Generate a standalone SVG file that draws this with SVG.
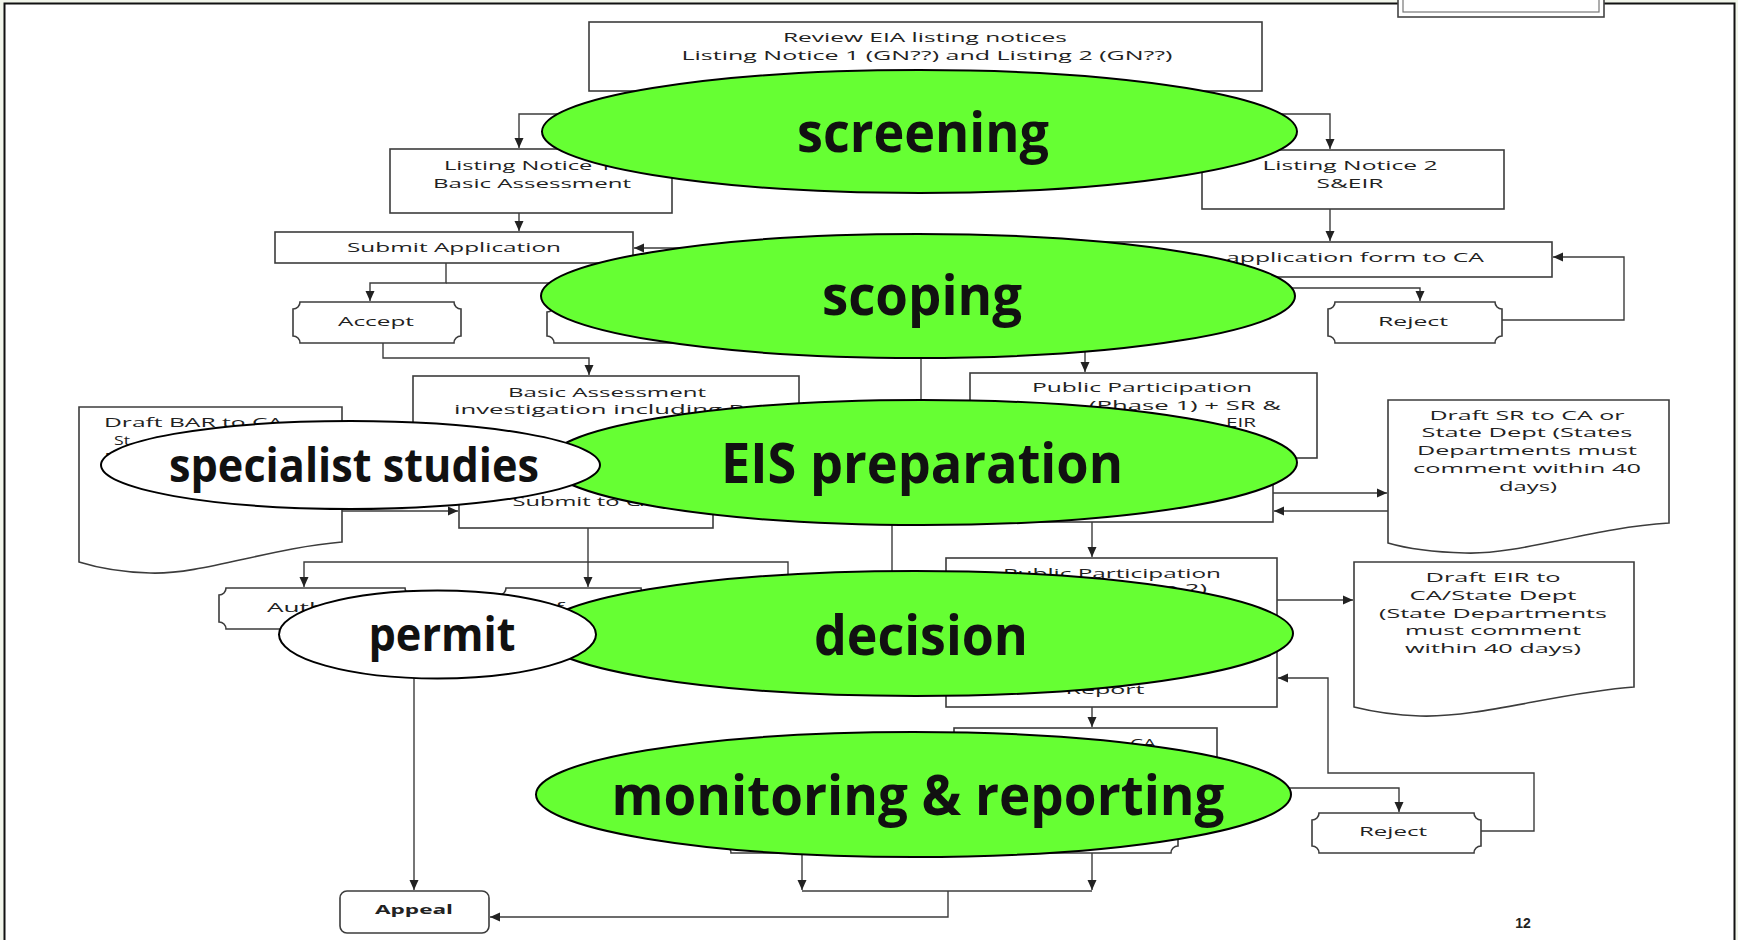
<svg xmlns="http://www.w3.org/2000/svg" width="1738" height="940" viewBox="0 0 1738 940">
<defs>
<marker id="ah" markerUnits="userSpaceOnUse" markerWidth="10" markerHeight="10" refX="10" refY="5" orient="auto">
<path d="M0,0.5 L10,5 L0,9.5 Z" fill="#222"/>
</marker>
<style>
.bx{fill:#fff;stroke:#3c3c3c;stroke-width:1.6}
.cn{fill:none;stroke:#3c3c3c;stroke-width:1.4}
.t{font-family:"Open Sans","Liberation Sans",sans-serif;font-size:13px;fill:#222;text-anchor:middle}
.g{fill:#66ff33;stroke:#000;stroke-width:2}
.w{fill:#fff;stroke:#000;stroke-width:2}
.L{font-family:"Open Sans","Liberation Sans",sans-serif;font-weight:700;font-size:56px;fill:#111;text-anchor:middle}
.S{font-family:"Open Sans","Liberation Sans",sans-serif;font-weight:700;font-size:46px;fill:#111;text-anchor:middle}
</style>
</defs>
<rect x="0" y="0" width="1738" height="940" fill="#f1f5ea"/>
<rect x="4.5" y="3.5" width="1730" height="980" fill="#fff" stroke="#111" stroke-width="2"/>
<g id="topbox">
<rect x="1398" y="-10" width="206" height="27" fill="#fff" stroke="#444" stroke-width="1.6"/>
<rect x="1403" y="-10" width="196" height="22" fill="none" stroke="#777" stroke-width="1.2"/>
</g>
<g id="connectors">
<path class="cn" d="M925,91 V114 H519 V148" marker-end="url(#ah)"/>
<path class="cn" d="M925,114 H1330 V149" marker-end="url(#ah)"/>
<path class="cn" d="M519,213 V231" marker-end="url(#ah)"/>
<path class="cn" d="M1330,209 V241" marker-end="url(#ah)"/>
<path class="cn" d="M446,263 V283 H370 V301" marker-end="url(#ah)"/>
<path class="cn" d="M446,283 H620 V304" marker-end="url(#ah)"/>
<path class="cn" d="M720,248 H634" marker-end="url(#ah)"/>
<path class="cn" d="M383,343 V358 H589 V375" marker-end="url(#ah)"/>
<path class="cn" d="M1250,288 H1420 V301" marker-end="url(#ah)"/>
<path class="cn" d="M1502,320 H1624 V257 H1553" marker-end="url(#ah)"/>
<path class="cn" d="M921,340 V410"/>
<path class="cn" d="M1085,340 V372" marker-end="url(#ah)"/>
<path class="cn" d="M342,511 H458" marker-end="url(#ah)"/>
<path class="cn" d="M588,528 V562 H304 V587" marker-end="url(#ah)"/>
<path class="cn" d="M588,562 V587" marker-end="url(#ah)"/>
<path class="cn" d="M588,562 H788 V590"/>
<path class="cn" d="M892,515 V585"/>
<path class="cn" d="M1273,493 H1387" marker-end="url(#ah)"/>
<path class="cn" d="M1388,511 H1274" marker-end="url(#ah)"/>
<path class="cn" d="M1092,522 V557" marker-end="url(#ah)"/>
<path class="cn" d="M1277,600 H1353" marker-end="url(#ah)"/>
<path class="cn" d="M1481,831 H1534 V773 H1328 V678 H1278" marker-end="url(#ah)"/>
<path class="cn" d="M1092,707 V727" marker-end="url(#ah)"/>
<path class="cn" d="M1270,788 H1399 V812" marker-end="url(#ah)"/>
<path class="cn" d="M802,853 V890" marker-end="url(#ah)"/>
<path class="cn" d="M1092,845 V890" marker-end="url(#ah)"/>
<path class="cn" d="M802,891 H1092"/>
<path class="cn" d="M948,891 V917 H490" marker-end="url(#ah)"/>
<path class="cn" d="M414,670 V890" marker-end="url(#ah)"/>
</g>
<g id="review"><rect class="bx" x="589" y="22" width="673" height="69"/>
<text class="t" x="925" y="42" textLength="284" lengthAdjust="spacingAndGlyphs">Review EIA listing notices</text>
<text class="t" x="927" y="60" textLength="491" lengthAdjust="spacingAndGlyphs">Listing Notice 1 (GN??) and Listing 2 (GN??)</text></g>
<g id="ln1"><rect class="bx" x="390" y="149" width="282" height="64"/>
<text class="t" x="528" y="170" textLength="168" lengthAdjust="spacingAndGlyphs">Listing Notice 1</text>
<text class="t" x="532" y="188" textLength="198" lengthAdjust="spacingAndGlyphs">Basic Assessment</text></g>
<g id="ln2"><rect class="bx" x="1202" y="150" width="302" height="59"/>
<text class="t" x="1350" y="170" textLength="175" lengthAdjust="spacingAndGlyphs">Listing Notice 2</text>
<text class="t" x="1350" y="188" textLength="67" lengthAdjust="spacingAndGlyphs">S&amp;EIR</text></g>
<g id="submitapp"><rect class="bx" x="275" y="232" width="358" height="31"/>
<text class="t" x="454" y="252" textLength="214" lengthAdjust="spacingAndGlyphs">Submit Application</text></g>
<g id="accept"><path class="bx" d="M300,302 H454 A7,7 0 0 0 461,309 V336 A7,7 0 0 0 454,343 H300 A7,7 0 0 0 293,336 V309 A7,7 0 0 0 300,302 Z"/>
<text class="t" x="376" y="326" textLength="76" lengthAdjust="spacingAndGlyphs">Accept</text></g>
<g id="rejectba"><path class="bx" d="M554,305 H713 A7,7 0 0 0 720,312 V336 A7,7 0 0 0 713,343 H554 A7,7 0 0 0 547,336 V312 A7,7 0 0 0 554,305 Z"/></g>
<g id="appform"><rect class="bx" x="1050" y="242" width="502" height="35"/>
<text class="t" x="1355" y="262" textLength="258" lengthAdjust="spacingAndGlyphs">application form to CA</text></g>
<g id="reject1"><path class="bx" d="M1335,302 H1495 A7,7 0 0 0 1502,309 V336 A7,7 0 0 0 1495,343 H1335 A7,7 0 0 0 1328,336 V309 A7,7 0 0 0 1335,302 Z"/>
<text class="t" x="1413" y="326" textLength="70" lengthAdjust="spacingAndGlyphs">Reject</text></g>
<g id="ba"><rect class="bx" x="413" y="376" width="386" height="104"/>
<text class="t" x="607" y="397" textLength="198" lengthAdjust="spacingAndGlyphs">Basic Assessment</text>
<text class="t" x="599" y="414" textLength="290" lengthAdjust="spacingAndGlyphs">investigation including P</text></g>
<g id="draftbar"><path class="bx" d="M79,407 H342 V542 C270,548 200,575 150,573 C115,572 95,567 79,562 Z"/>
<text class="t" x="193.5" y="427" textLength="179" lengthAdjust="spacingAndGlyphs">Draft BAR to CA</text>
<text class="t" x="122" y="445" textLength="16" lengthAdjust="spacingAndGlyphs">St</text>
<text class="t" x="110" y="462" textLength="10" lengthAdjust="spacingAndGlyphs">D</text></g>
<g id="submitca"><rect class="bx" x="459" y="482" width="254" height="46"/>
<text class="t" x="584" y="506" textLength="143" lengthAdjust="spacingAndGlyphs">Submit to CA</text></g>
<g id="auth"><path class="bx" d="M226,588 H405 A7,7 0 0 0 412,595 V622 A7,7 0 0 0 405,629 H226 A7,7 0 0 0 219,622 V595 A7,7 0 0 0 226,588 Z"/>
<text class="t" x="296" y="612" textLength="58" lengthAdjust="spacingAndGlyphs">Auth</text></g>
<g id="ref"><path class="bx" d="M506,588 H641 A7,7 0 0 0 648,595 V622 A7,7 0 0 0 641,629 H506 A7,7 0 0 0 499,622 V595 A7,7 0 0 0 506,588 Z"/>
<text class="t" x="543" y="612" textLength="42" lengthAdjust="spacingAndGlyphs">Ref</text></g>
<g id="pp1"><rect class="bx" x="970" y="373" width="347" height="85"/>
<text class="t" x="1142" y="392" textLength="220" lengthAdjust="spacingAndGlyphs">Public Participation</text>
<text class="t" x="1185" y="410" textLength="192" lengthAdjust="spacingAndGlyphs">(Phase 1) + SR &amp;</text>
<text class="t" x="1241" y="427" textLength="30" lengthAdjust="spacingAndGlyphs">EIR</text></g>
<g id="ppmid"><rect class="bx" x="975" y="470" width="298" height="52"/></g>
<g id="draftsr"><path class="bx" d="M1388,400 H1669 V523 C1590,528 1520,555 1465,553 C1430,552 1405,548 1388,543 Z"/>
<text class="t" x="1527" y="420" textLength="195" lengthAdjust="spacingAndGlyphs">Draft SR to CA or</text>
<text class="t" x="1527" y="437" textLength="211" lengthAdjust="spacingAndGlyphs">State Dept (States</text>
<text class="t" x="1527" y="455" textLength="220" lengthAdjust="spacingAndGlyphs">Departments must</text>
<text class="t" x="1527" y="473" textLength="228" lengthAdjust="spacingAndGlyphs">comment within 40</text>
<text class="t" x="1528" y="491" textLength="58" lengthAdjust="spacingAndGlyphs">days)</text></g>
<g id="pp2"><rect class="bx" x="946" y="558" width="331" height="149"/>
<text class="t" x="1112" y="578" textLength="218" lengthAdjust="spacingAndGlyphs">Public Participation</text>
<text class="t" x="1153" y="593" textLength="108" lengthAdjust="spacingAndGlyphs">(Phase 2)</text>
<text class="t" x="1105" y="694" textLength="79" lengthAdjust="spacingAndGlyphs">Report</text></g>
<g id="drafteir"><path class="bx" d="M1354,562 H1634 V687 C1560,692 1480,718 1420,716 C1390,715 1370,711 1354,707 Z"/>
<text class="t" x="1493" y="582" textLength="135" lengthAdjust="spacingAndGlyphs">Draft EIR to</text>
<text class="t" x="1493" y="600" textLength="167" lengthAdjust="spacingAndGlyphs">CA/State Dept</text>
<text class="t" x="1493" y="618" textLength="228" lengthAdjust="spacingAndGlyphs">(State Departments</text>
<text class="t" x="1493" y="635" textLength="176" lengthAdjust="spacingAndGlyphs">must comment</text>
<text class="t" x="1493" y="653" textLength="176" lengthAdjust="spacingAndGlyphs">within 40 days)</text></g>
<g id="cabox"><rect class="bx" x="954" y="728" width="263" height="80"/>
<text class="t" x="1143" y="748" textLength="26" lengthAdjust="spacingAndGlyphs">CA</text></g>
<g id="bottomplaque"><path class="bx" d="M731,815 H1171 A7,7 0 0 0 1178,822 V846 A7,7 0 0 0 1171,853 H731 A7,7 0 0 0 724,846 V822 A7,7 0 0 0 731,815 Z"/></g>
<g id="reject2"><path class="bx" d="M1319,813 H1474 A7,7 0 0 0 1481,820 V846 A7,7 0 0 0 1474,853 H1319 A7,7 0 0 0 1312,846 V820 A7,7 0 0 0 1319,813 Z"/>
<text class="t" x="1393" y="836" textLength="68" lengthAdjust="spacingAndGlyphs">Reject</text></g>
<g id="appeal"><rect class="bx" x="340" y="891" width="149" height="42" rx="7"/>
<text class="t" x="414" y="914" textLength="78" lengthAdjust="spacingAndGlyphs" font-weight="700">Appeal</text></g>
<g id="pagenum"><text x="1523" y="928" font-family="'Liberation Sans',sans-serif" font-size="14" font-weight="700" fill="#222" text-anchor="middle">12</text></g>
<g id="screening"><ellipse class="g" cx="919.5" cy="131.5" rx="377.5" ry="61.5"/>
<text class="L" x="923" y="152" textLength="252" lengthAdjust="spacingAndGlyphs">screening</text></g>
<g id="scoping"><ellipse class="g" cx="918" cy="296" rx="377" ry="62"/>
<text class="L" x="922" y="315" textLength="200" lengthAdjust="spacingAndGlyphs">scoping</text></g>
<g id="eis"><ellipse class="g" cx="922" cy="462.5" rx="375" ry="62.5"/>
<text class="L" x="922" y="483" textLength="402" lengthAdjust="spacingAndGlyphs">EIS preparation</text></g>
<g id="decision"><ellipse class="g" cx="915.5" cy="633.5" rx="377.5" ry="62.5"/>
<text class="L" x="921" y="655" textLength="214" lengthAdjust="spacingAndGlyphs">decision</text></g>
<g id="monitoring"><ellipse class="g" cx="913.5" cy="794.5" rx="377.5" ry="62.5"/>
<text class="L" x="918" y="815" textLength="613" lengthAdjust="spacingAndGlyphs">monitoring &amp; reporting</text></g>
<g id="specialist"><ellipse class="w" cx="350.5" cy="465" rx="249.5" ry="44"/>
<text class="S" x="354" y="482" textLength="370" lengthAdjust="spacingAndGlyphs">specialist studies</text></g>
<g id="permit"><ellipse class="w" cx="437.5" cy="634.5" rx="158.5" ry="44"/>
<text class="S" x="442" y="651" textLength="147" lengthAdjust="spacingAndGlyphs">permit</text></g>
</svg>
